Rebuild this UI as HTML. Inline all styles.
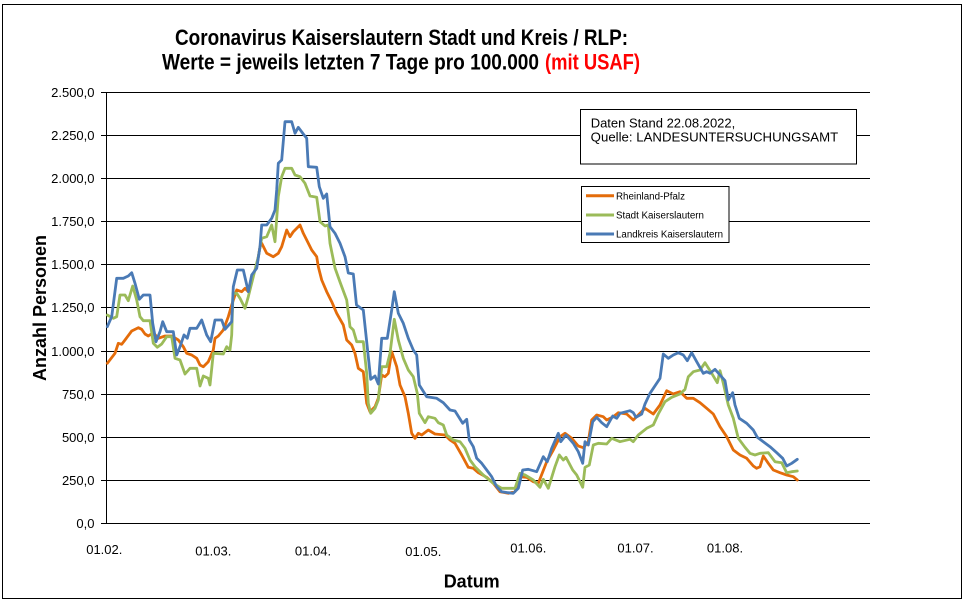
<!DOCTYPE html>
<html><head><meta charset="utf-8"><style>
html,body{margin:0;padding:0;background:#fff;}
svg{display:block;}
text{font-family:"Liberation Sans",Arial,sans-serif;}
</style></head><body>
<svg width="967" height="603" viewBox="0 0 967 603" xmlns="http://www.w3.org/2000/svg">
<rect x="0" y="0" width="967" height="603" fill="#fff"/>
<rect x="2.5" y="4.5" width="959" height="594" fill="#fff" stroke="#000" stroke-width="1"/>

<!-- title -->
<text x="175" y="45" font-size="22" font-weight="bold" textLength="453" lengthAdjust="spacingAndGlyphs">Coronavirus Kaiserslautern Stadt und Kreis / RLP:</text>
<text x="162" y="69.5" font-size="22" font-weight="bold" textLength="377" lengthAdjust="spacingAndGlyphs">Werte = jeweils letzten 7 Tage pro 100.000</text>
<text x="545" y="69.5" font-size="22" font-weight="bold" fill="#ff0000" textLength="95" lengthAdjust="spacingAndGlyphs">(mit USAF)</text>

<!-- gridlines -->
<g stroke="#000" stroke-width="1">
<line x1="101" y1="92.5" x2="870" y2="92.5"/>
<line x1="101" y1="135.5" x2="870" y2="135.5"/>
<line x1="101" y1="178.5" x2="870" y2="178.5"/>
<line x1="101" y1="221.5" x2="870" y2="221.5"/>
<line x1="101" y1="264.5" x2="870" y2="264.5"/>
<line x1="101" y1="307.5" x2="870" y2="307.5"/>
<line x1="101" y1="351.5" x2="870" y2="351.5"/>
<line x1="101" y1="394.5" x2="870" y2="394.5"/>
<line x1="101" y1="437.5" x2="870" y2="437.5"/>
<line x1="101" y1="480.5" x2="870" y2="480.5"/>
<line x1="101" y1="523.5" x2="870" y2="523.5"/>
<line x1="106.5" y1="92" x2="106.5" y2="524"/>
</g>

<!-- y tick labels -->
<g font-size="13" text-anchor="end" fill="#000">
<text x="94.5" y="97">2.500,0</text>
<text x="94.5" y="140">2.250,0</text>
<text x="94.5" y="183">2.000,0</text>
<text x="94.5" y="226">1.750,0</text>
<text x="94.5" y="269">1.500,0</text>
<text x="94.5" y="312">1.250,0</text>
<text x="94.5" y="356">1.000,0</text>
<text x="94.5" y="399">750,0</text>
<text x="94.5" y="442">500,0</text>
<text x="94.5" y="485">250,0</text>
<text x="94.5" y="528">0,0</text>
</g>

<!-- x labels -->
<g font-size="13" text-anchor="middle" fill="#000">
<text x="104.3" y="554">01.02.</text>
<text x="213.3" y="555.5">01.03.</text>
<text x="313" y="555.5">01.04.</text>
<text x="423.3" y="556">01.05.</text>
<text x="528.3" y="552.7">01.06.</text>
<text x="635.5" y="552.5">01.07.</text>
<text x="725" y="552.3">01.08.</text>
</g>

<text x="471.7" y="587.5" font-size="18" font-weight="bold" text-anchor="middle">Datum</text>
<text transform="translate(46,308) rotate(-90)" font-size="18" font-weight="bold" text-anchor="middle">Anzahl Personen</text>

<!-- series -->
<g fill="none" stroke-width="2.8" stroke-linejoin="round" stroke-linecap="round">
<polyline stroke="#e46c0a" points="107.3,363.3 115,353.3 118.3,343.3 121.7,344.3 125,340 131.7,331 138.3,327.7 141.7,329.3 145,334 148.3,336 153.3,332.7 158.3,338.3 165,336 171.7,336 178.3,340 183.3,346.7 186.7,353.3 191.7,355 196.7,358.3 200,365 203.3,366.7 208.3,361.7 213.3,350 215,338.3 218.3,336 223.3,330 228.3,316.7 231.7,305 236.7,290 241.7,291.7 245,288.3 248.3,291.7 251.7,276.7 256.7,266.7 260,246.7 261.7,243.3 266.7,253.3 273.3,256.7 278.3,253.3 281.7,246.7 286.7,230 290,236.7 293.3,231.7 300,225 303.3,233.3 306.7,240 311.7,250 316.7,256.7 318.3,266.7 321.7,280 326.7,291.7 331.7,301.7 336.7,313.3 343.3,325 346.7,340 351.7,345 355,353.3 358.3,368.3 363.3,371.7 366.7,403.3 370,411.7 375,406.7 378.3,398.3 381.7,375 385,376.7 388.3,373.3 391.7,351.7 396.7,366.7 400,385 405,396.7 408.3,413.3 411.7,433.3 415,438.3 418.3,433.3 421.7,435 428.3,430 435,434 445,435 450,440 455,443.3 461.7,455 468.3,467.3 473.3,468.3 478.3,472.7 486.7,477.3 493.3,483.3 500,491.7 508.3,493.3 515,491.7 520,476.7 526.7,477.3 533.3,481.7 538.3,483.3 546.7,461.7 553.3,450 560,436.7 565,433.3 571.7,438.3 578.3,446 583.3,447.7 588.3,441.7 591.7,420 596.7,415 603.3,416.7 606.7,420 613.3,416.7 618.3,412.7 626.7,414 633.3,420 640,413.3 645,408.3 653.3,414 660,405 666.7,390.7 673.3,394 680,391.7 686.7,398.3 693.3,398.3 700,402.7 706.7,408.3 713.3,414 720,426.7 726.7,436.7 733.3,450 740,455 746.7,458.3 753.3,466 756.7,468.3 760,466.7 763.3,456 768.3,463.3 773.3,470 780,472.7 786.7,475 793.3,476.7 797.3,480"/>
<polyline stroke="#9bbb59" points="107.3,315 113.3,318.3 116.7,316.7 120,295 125,295 128.3,300.7 132.7,286 136.7,300 140,316.7 143.3,320.7 150,320.7 153.3,343.3 157.3,347.3 161.7,344 166.7,336.7 171.7,336.7 175,358.3 180,360 185,374 190,368.3 196.7,368.3 200,386 203.3,376 208.3,378.3 210,385 213.3,353.3 223.3,354 226.7,346.7 230,350 231.7,335 233,293.3 236.7,293.3 240,298.3 245,308.3 248.3,296.7 253.3,276.7 258.3,256.7 261.7,238.3 266.7,236.7 271.7,225 275,241.7 278.3,196.7 281.7,176.7 285,168.3 291.7,168.3 295,175 300,176.7 305,183.3 310,196 316.7,197.3 320,221.7 325,226 328.3,225 330,243.3 335,268 340,282 346.7,300 350,326.7 353.3,330 356.7,341.7 363.3,341.7 366.7,373.3 368.3,403.3 370.7,413.3 375,408.3 378.3,400 381.7,366.7 386.7,366.7 390,353.3 394.3,319.3 398.3,340 403.3,358.3 408.3,370 413.3,376.7 417.3,393.3 419.3,413.3 425,422.7 428.3,416.7 435,418.3 438.3,422.7 443.3,425 446.7,435 453.3,440 460,441.7 465,448.3 470,460 475,466.7 483.3,475 493.3,483.3 501.7,488.3 515,488.3 520,473.3 525,475 533.3,480 540,487.3 543.3,479.3 548.3,488.3 555,466.7 559.3,455 563.3,460 566,457.3 572.7,470 576.7,475 582.7,487.3 585,467.3 589.3,465 593.3,445 598.3,443.3 606.7,444 611.7,438.3 620,441.7 630,439.3 633.3,441.7 638.3,435 646.7,428.3 653.3,425 658.3,414 665,401.7 671.7,397.3 680,394 685,389.3 688.3,376.7 693.3,371.7 700,370 705,362.7 711.7,373.3 717.3,382.7 720,370.7 723.3,383.3 728.3,405 733.3,418.3 738.3,438.3 745,447.3 750,453.3 755,455 760,453.3 768.3,452.7 775,461.7 781.7,462.7 786.7,472.7 791.7,471.7 797.3,471"/>
<polyline stroke="#4a7ab5" points="107.3,326.7 111.7,316.7 116.7,278.3 123.3,278.3 128.3,276 131.7,272.7 135,283.3 139.3,299.3 143.3,295 150,295 152.7,323.3 156,341.7 160,331.7 162.7,321.7 166.7,331.7 173.3,331.7 176.7,355 180,346.7 184,335 187.3,338.3 190,328.3 196.7,328.3 201.7,320 206.7,335 210.7,341.7 215,320 221.7,320 225,329.3 231.7,321.7 233.3,286.7 237.3,270 243.3,270 248.3,291.7 251.7,275 256.7,268.3 260,246.7 261.7,225 266.7,225 271.7,218.3 275,210 276.7,190 278.3,163.3 281.7,160 285,121.7 291.7,121.7 295,133.3 298.3,127.3 303.3,134 306.7,138.3 308.3,166.7 316.7,167.3 319.3,186.7 323.3,198.3 326.7,194 328.3,210 330,226.7 335,233.3 340,243.3 345,256.7 348.3,273 353.3,274 356.5,305 363.3,310 368.3,356.7 370.7,379.3 375,376 378.3,384 381.7,338.3 387.3,338.3 391.7,310 394.3,291.7 398.3,313.3 403.3,323.3 408.3,338.3 413.3,350 416.7,355 419.3,385 426.7,396.7 436.7,398.3 443.3,402.7 450,410 455,411 462.7,423.3 466.7,419.3 469.3,440 473.3,446.7 476.7,458.3 481.7,463.3 486.7,470 491.7,476.7 496.7,486.7 501.7,491.7 508.3,492.7 513.3,493.3 518.3,488.3 522.7,470 528.3,469.3 536.7,471.7 543.3,456.7 547.3,461.7 551.7,448.3 558.3,433.3 560.7,441.7 566,435 573.3,443.3 578.3,451.7 582.7,463.3 585,441.7 588.3,445 592.7,421.7 596.7,417.3 601.7,422.7 606.7,426.7 612.7,416 616.7,418.3 620,413.3 630,410.7 633.3,412.7 636,417.3 641.7,414 645,404 650,393.3 660,378.3 663.3,354 668.3,358.3 673.3,355 678.3,352.7 683.3,355 687.3,360.7 691.7,352.7 696.7,361.7 703.3,373.3 706.7,371.7 710,373.3 715,369.3 720,375 725,380.7 728.3,400 732.7,392.7 735,405 739.3,418.3 746.7,423.3 753.3,430 757.3,437.3 763.3,441.7 770,446.7 776.7,452.7 782.7,458.3 786.7,466 791.7,463.3 797.3,459.3"/>
</g>

<!-- note box -->
<rect x="580.5" y="109.5" width="276" height="54.5" fill="#fff" stroke="#000" stroke-width="1"/>
<text x="590.7" y="127.5" font-size="13">Daten Stand 22.08.2022,</text>
<text x="590.7" y="141.5" font-size="13" textLength="247.5" lengthAdjust="spacingAndGlyphs">Quelle: LANDESUNTERSUCHUNGSAMT</text>

<!-- legend -->
<rect x="581.5" y="186.5" width="147.5" height="56" fill="#fff" stroke="#000" stroke-width="1"/>
<line x1="586" y1="195.7" x2="614" y2="195.7" stroke="#e46c0a" stroke-width="3"/>
<line x1="586" y1="215" x2="614" y2="215" stroke="#9bbb59" stroke-width="3"/>
<line x1="586" y1="234" x2="614" y2="234" stroke="#4a7ab5" stroke-width="3"/>
<text x="616" y="199.3" font-size="10" textLength="69" lengthAdjust="spacingAndGlyphs">Rheinland-Pfalz</text>
<text x="616" y="218.6" font-size="10" textLength="88" lengthAdjust="spacingAndGlyphs">Stadt Kaiserslautern</text>
<text x="616" y="237.6" font-size="10" textLength="107" lengthAdjust="spacingAndGlyphs">Landkreis Kaiserslautern</text>
</svg>
</body></html>
